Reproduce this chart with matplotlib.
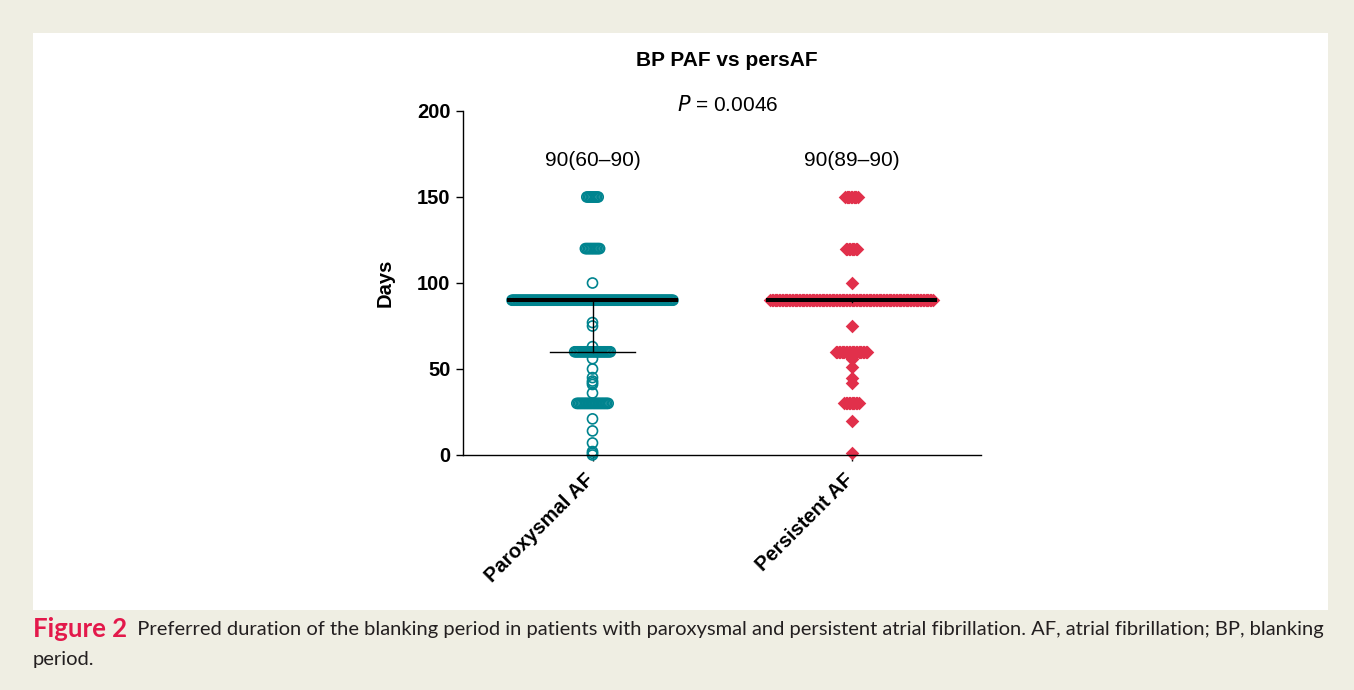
import sys
import numpy as np
import matplotlib as mpl
import matplotlib.pyplot as plt
from matplotlib.patches import Rectangle

# Values: distinct answers (days) and how many patients gave each.
groups = ['Paroxysmal AF', 'Persistent AF']

paf_days = [150, 120, 100, 90, 77, 75, 63, 60, 56, 50, 45, 43, 42, 41, 36, 30, 21, 14, 7, 2, 1, 0]
paf_counts = [9, 11, 1, 114, 1, 1, 1, 26, 1, 1, 1, 1, 1, 1, 1, 23, 1, 1, 1, 1, 1, 1]

pers_days = [150, 120, 100, 90, 75, 60, 56, 51, 45, 42, 30, 20, 1]
pers_counts = [10, 9, 1, 115, 1, 23, 1, 1, 1, 1, 11, 1, 1]

# median (IQR) per group
medians = [90, 90]
q1 = [60, 89]
q3 = [90, 90]
labels = ['90(60\u201390)', '90(89\u201390)']
p_text = r'$P$ = 0.0046'


def spread(days, counts, centre, step=0.0055):
    # lay tied values out side by side, like a column scatter
    xs, ys = [], []
    for d, n in zip(days, counts):
        off = (np.arange(n) - (n - 1) / 2.0) * step
        xs.extend(centre + off)
        ys.extend([d] * n)
    return np.array(xs), np.array(ys)


def main():

    mpl.rcParams['font.family'] = ['Liberation Sans', 'DejaVu Sans']
    mpl.rcParams['axes.linewidth'] = 1.0

    teal = '#00848f'
    red = '#e1304b'

    fig = plt.figure(figsize=(13.54, 6.9), dpi=100)
    fig.patch.set_facecolor('#efeee3')

    # white panel behind the chart
    fig.patches.append(Rectangle((33 / 1354, 1 - 610 / 690), (1328 - 33) / 1354, (610 - 33) / 690,
                                 transform=fig.transFigure, facecolor='white',
                                 edgecolor='none', zorder=-5))

    ax = fig.add_axes([463 / 1354, 1 - 455 / 690, (981 - 463) / 1354, (455 - 111) / 690])
    ax.set_facecolor('none')
    ax.set_zorder(2)

    x, y = spread(paf_days, paf_counts, 0)
    ax.scatter(x, y, s=52, facecolors='none', edgecolors=teal, linewidths=1.2, zorder=2,
               clip_on=False)

    x, y = spread(pers_days, pers_counts, 1)
    ax.scatter(x, y, s=48, marker='D', color=red, linewidths=0, zorder=2, clip_on=False)

    # median and interquartile range
    for i in range(2):
        ax.plot([i - 0.33, i + 0.33], [medians[i], medians[i]], color='black', lw=2.9, zorder=4,
                solid_capstyle='butt')
        ax.plot([i, i], [q1[i], q3[i]], color='black', lw=1.0, zorder=3)
        # the lower cap is hidden under the median bar when the IQR is tiny
        if medians[i] - q1[i] > 2:
            ax.plot([i - 0.165, i + 0.165], [q1[i], q1[i]], color='black', lw=1.0, zorder=3)
        ax.text(i, 171.5, labels[i], ha='center', va='center', fontsize=15)

    ax.text(0.52, 203.5, p_text, ha='center', va='center', fontsize=15)
    ax.text(0.52, 229.3, 'BP PAF vs persAF', ha='center', va='center', fontsize=15,
            fontweight='bold', clip_on=False)

    ax.set_xlim(-0.5, 1.5)
    ax.set_ylim(0, 200)
    ax.set_yticks([0, 50, 100, 150, 200])
    ax.set_xticks([0, 1])
    ax.set_xticklabels([])
    # group names, slanted, hung just under each tick
    for i, g in enumerate(groups):
        ax.annotate(g, xy=(i, 0), xycoords=('data', 'axes fraction'), xytext=(-8, -15),
                    textcoords='offset pixels', rotation=45, ha='right', va='top',
                    rotation_mode='anchor', fontweight='bold', fontsize=14.5,
                    annotation_clip=False)
    for t in ax.get_yticklabels():
        t.set_fontweight('bold')
    ax.tick_params(axis='y', labelsize=14.5, length=5, width=1.0, pad=4)
    ax.tick_params(axis='x', length=4, width=1.0, pad=4)
    ax.set_ylabel('Days', fontweight='bold', fontsize=14.5, labelpad=16)

    ax.spines['top'].set_visible(False)
    ax.spines['right'].set_visible(False)

    # caption
    cap = fig.text(33 / 1354, 1 - 629 / 690, 'Figure 2', color='#e3194b', fontweight='bold',
                   fontsize=18.5, family='Lato', va='center')
    ax.annotate('  Preferred duration of the blanking period in patients with paroxysmal and '
                'persistent atrial fibrillation. AF, atrial fibrillation; BP, blanking',
                xy=(1, 0.5), xycoords=cap, va='center', fontsize=14.5, family='Lato',
                color='#231f20', annotation_clip=False)
    fig.text(33 / 1354, 1 - 660 / 690, 'period.', fontsize=14.5, family='Lato',
             color='#231f20', va='center')

    fig.savefig('out.png', dpi=100, facecolor=fig.get_facecolor())

    return 0


if __name__ == '__main__':
    sys.exit(main())
